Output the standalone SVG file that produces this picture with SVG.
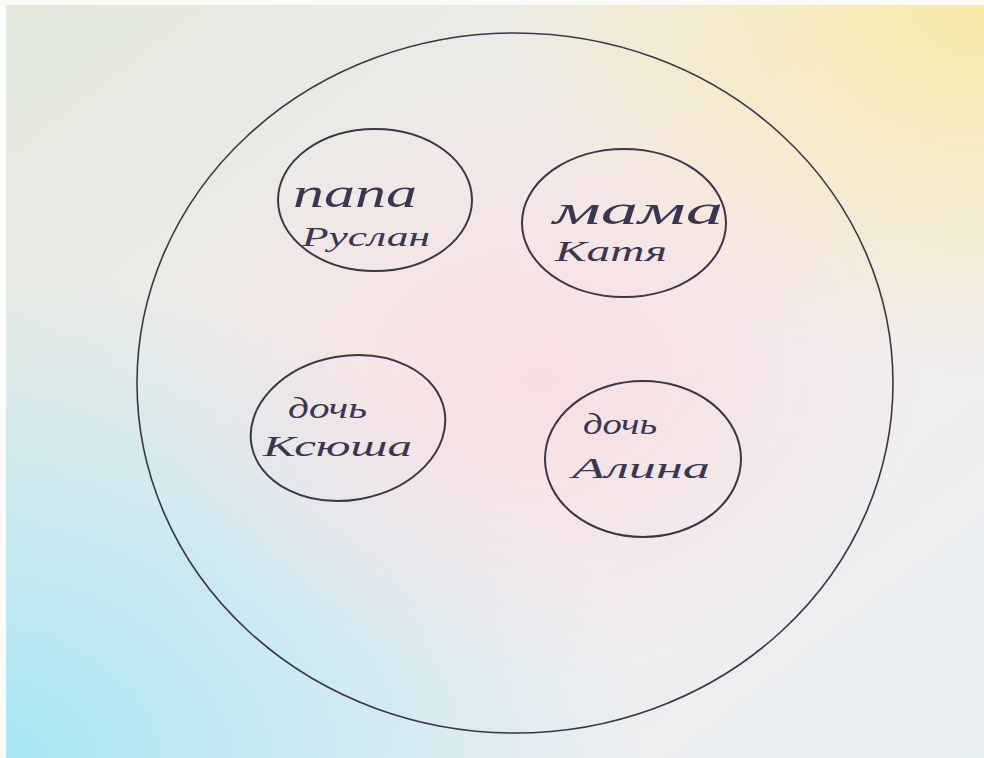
<svg xmlns="http://www.w3.org/2000/svg" width="984" height="758" viewBox="0 0 984 758">
<defs>
<linearGradient id="bg" x1="0" y1="0" x2="1" y2="1">
<stop offset="0" stop-color="#e1e8dc"/>
<stop offset="0.5" stop-color="#f5edef"/>
<stop offset="1" stop-color="#e8eff1"/>
</linearGradient>
<radialGradient id="cyan" cx="0" cy="1" r="0.65">
<stop offset="0" stop-color="#a6e6f4" stop-opacity="1"/>
<stop offset="1" stop-color="#a6e6f4" stop-opacity="0"/>
</radialGradient>
<radialGradient id="yellow" cx="1" cy="0" r="0.5">
<stop offset="0" stop-color="#f7e9a6" stop-opacity="1"/>
<stop offset="1" stop-color="#f7e9a6" stop-opacity="0"/>
</radialGradient>
<radialGradient id="pink" cx="0.55" cy="0.5" r="0.4">
<stop offset="0" stop-color="#f8dde0" stop-opacity="0.9"/>
<stop offset="1" stop-color="#f8dde0" stop-opacity="0"/>
</radialGradient>
<style>
.ring{fill:none;stroke:#3a3646;stroke-width:2;stroke-linecap:round}
.big{fill:none;stroke:#3a3646;stroke-width:1.6}
.t{font-family:"Liberation Serif","DejaVu Serif",serif;font-style:italic;fill:#3b3650}
.a{font-size:40px}
.b{font-size:30px}
.c{font-size:27px}
</style>
</defs>
<rect x="0" y="0" width="984" height="758" fill="url(#bg)"/>
<rect x="0" y="0" width="984" height="758" fill="url(#cyan)"/>
<rect x="0" y="0" width="984" height="758" fill="url(#yellow)"/>
<rect x="0" y="0" width="984" height="758" fill="url(#pink)"/>
<rect x="0" y="0" width="6" height="758" fill="#fbfbf9"/>
<rect x="0" y="0" width="984" height="5" fill="#fbfbf9"/>
<g id="family">
<ellipse class="big" cx="515" cy="383" rx="378" ry="350"/>
</g>
<g id="connectors"/>
<g id="papa">
<ellipse class="ring" cx="375" cy="200" rx="97" ry="71"/>
<text class="t a" x="293" y="207" textLength="124" lengthAdjust="spacingAndGlyphs">папа</text>
<text class="t c" x="302" y="246" textLength="128" lengthAdjust="spacingAndGlyphs">Руслан</text>
</g>
<g id="mama">
<ellipse class="ring" cx="624" cy="223" rx="102" ry="74"/>
<text class="t a" x="553" y="224" textLength="170" lengthAdjust="spacingAndGlyphs">мама</text>
<text class="t b" x="555" y="261" textLength="112" lengthAdjust="spacingAndGlyphs">Катя</text>
</g>
<g id="ksusha">
<ellipse class="ring" cx="348" cy="428" rx="98" ry="72" transform="rotate(-10 348 428)"/>
<text class="t b" x="288" y="418" textLength="79" lengthAdjust="spacingAndGlyphs">дочь</text>
<text class="t b" x="263" y="456" textLength="149" lengthAdjust="spacingAndGlyphs">Ксюша</text>
</g>
<g id="alina">
<ellipse class="ring" cx="643" cy="459" rx="98" ry="78"/>
<text class="t b" x="583" y="434" textLength="74" lengthAdjust="spacingAndGlyphs">дочь</text>
<text class="t b" x="572" y="478" textLength="138" lengthAdjust="spacingAndGlyphs">Алина</text>
</g>
</svg>
